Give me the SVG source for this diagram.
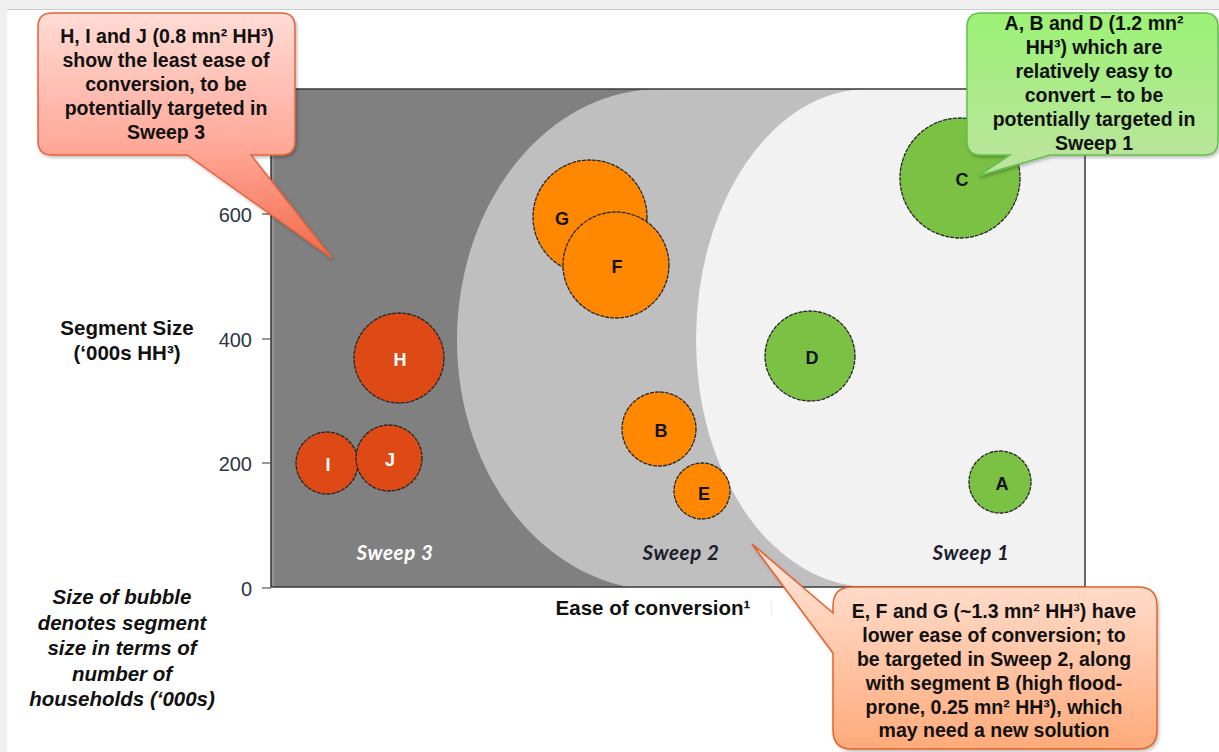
<svg xmlns="http://www.w3.org/2000/svg" width="1219" height="752" viewBox="0 0 1219 752">
<style>
.lbl{font-family:"Liberation Sans",Arial,sans-serif;font-weight:bold;font-size:18px;text-anchor:middle;fill:#111}
.lblw{fill:#ffffff}
.bub{stroke:#262626;stroke-width:1.3;stroke-dasharray:4 1}
.or{fill:#ff8800}.rd{fill:#dd4a16}.gr{fill:#7bc143}
.tick{font-family:"Liberation Sans",Arial,sans-serif;font-size:20px;fill:#2e3546;text-anchor:end}
.ttl{font-family:"Liberation Sans",Arial,sans-serif;font-weight:bold;font-size:20.5px;fill:#111;text-anchor:middle}
.it{font-family:"Liberation Sans",Arial,sans-serif;font-weight:bold;font-style:italic;font-size:20.5px;fill:#111;text-anchor:middle}
.co{font-family:"Liberation Sans",Arial,sans-serif;font-weight:bold;font-size:19.5px;fill:#111;text-anchor:middle}
.sw{font-family:Lato,"Liberation Sans",sans-serif;font-weight:bold;font-style:italic;font-size:20.5px;letter-spacing:0.6px;text-anchor:middle}
</style>
<defs>
<clipPath id="plotclip"><rect x="271" y="89" width="814" height="498"/></clipPath>
<linearGradient id="gRed" gradientUnits="userSpaceOnUse" x1="0" y1="13" x2="0" y2="258">
<stop offset="0" stop-color="#ffdcd6"/><stop offset="0.55" stop-color="#ffa898"/><stop offset="1" stop-color="#f26a48"/>
</linearGradient>
<linearGradient id="gGreen" gradientUnits="userSpaceOnUse" x1="0" y1="13" x2="0" y2="176">
<stop offset="0" stop-color="#9cf276"/><stop offset="1" stop-color="#bde39f"/>
</linearGradient>
<linearGradient id="gOrange" gradientUnits="userSpaceOnUse" x1="0" y1="544" x2="0" y2="750">
<stop offset="0" stop-color="#ffe8de"/><stop offset="1" stop-color="#ffaa7a"/>
</linearGradient>
<filter id="sh" x="-10%" y="-10%" width="120%" height="120%"><feDropShadow dx="1.5" dy="2" stdDeviation="1.5" flood-color="#000" flood-opacity="0.25"/></filter>
</defs>

<!-- page frame -->
<rect x="0" y="0" width="1219" height="752" fill="#ffffff"/>
<rect x="0" y="0" width="1219" height="9" fill="#f0f0f0"/>
<rect x="0" y="0" width="7" height="752" fill="#f0f0f0"/>
<line x1="7" y1="9.5" x2="1219" y2="9.5" stroke="#cccccc" stroke-width="1"/>

<!-- plot background regions -->
<g id="plot">
<g clip-path="url(#plotclip)">
<rect x="271" y="89" width="814" height="498" fill="#808080"/>
<path d="M 660 89 A 203 251 0 0 0 457 340 A 203 250 0 0 0 660 590 L 1085 590 L 1085 89 Z" fill="#bfbfbf"/>
<path d="M 868 89 A 172 251 0 0 0 696 340 A 174 247 0 0 0 870 587 L 1085 587 L 1085 89 Z" fill="#f2f2f2"/>
</g>
<rect x="271" y="89" width="814" height="498" fill="none" stroke="#3a3a3a" stroke-width="1.5"/>
<line x1="273" y1="90" x2="273" y2="586" stroke="#a8a8a8" stroke-width="1"/>
<g stroke="#555" stroke-width="1.2">
<line x1="262" y1="214" x2="271" y2="214"/>
<line x1="262" y1="339" x2="271" y2="339"/>
<line x1="262" y1="463" x2="271" y2="463"/>
<line x1="262" y1="588" x2="271" y2="588"/>
</g>
<text class="tick" x="252" y="222">600</text>
<text class="tick" x="252" y="347">400</text>
<text class="tick" x="252" y="471">200</text>
<text class="tick" x="252" y="596">0</text>
<text class="sw" x="395" y="560" fill="#ffffff">Sweep 3</text>
<text class="sw" x="681" y="560" fill="#1c1c2c">Sweep 2</text>
<text class="sw" x="971" y="560" fill="#1c1c2c">Sweep 1</text>
</g>

<!-- axis titles -->
<g id="axis-titles">
<text class="ttl" x="127" y="335">Segment Size</text>
<text class="ttl" x="127" y="360">(‘000s HH³)</text>
<text class="ttl" x="653" y="615">Ease of conversion¹</text>
<line x1="771.5" y1="601" x2="771.5" y2="616" stroke="#e2f2fa" stroke-width="1.5"/>
<text class="it" x="122" y="604">Size of bubble</text>
<text class="it" x="122" y="630">denotes segment</text>
<text class="it" x="122" y="655">size in terms of</text>
<text class="it" x="122" y="681">number of</text>
<text class="it" x="122" y="706">households (‘000s)</text>
</g>

<!-- bubbles -->
<g id="bubble-G"><circle class="bub or" cx="590" cy="217" r="57"/><text class="lbl" x="562" y="225">G</text></g>
<g id="bubble-F"><circle class="bub or" cx="616" cy="265" r="53"/><text class="lbl" x="617" y="273">F</text></g>
<g id="bubble-B"><circle class="bub or" cx="659" cy="429" r="37"/><text class="lbl" x="661" y="437">B</text></g>
<g id="bubble-E"><circle class="bub or" cx="702" cy="491" r="28"/><text class="lbl" x="704" y="500">E</text></g>
<g id="bubble-H"><circle class="bub rd" cx="399" cy="358" r="45"/><text class="lbl lblw" x="400" y="366">H</text></g>
<g id="bubble-I"><circle class="bub rd" cx="327" cy="463" r="31"/><text class="lbl lblw" x="328" y="471">I</text></g>
<g id="bubble-J"><circle class="bub rd" cx="389" cy="458" r="33"/><text class="lbl lblw" x="390" y="466">J</text></g>
<g id="bubble-D"><circle class="bub gr" cx="810" cy="356" r="45"/><text class="lbl" x="812" y="364">D</text></g>
<g id="bubble-A"><circle class="bub gr" cx="1000" cy="482" r="31"/><text class="lbl" x="1002" y="490">A</text></g>
<g id="bubble-C"><circle class="bub gr" cx="960" cy="178" r="60"/><text class="lbl" x="962" y="186">C</text></g>

<g id="connectors"></g>

<!-- callouts -->
<g id="callout-sweep3">
<path d="M 52 13 H 281 Q 295 13 295 27 V 141 Q 295 155 281 155 H 251 L 332 258 L 187 155 H 52 Q 38 155 38 141 V 27 Q 38 13 52 13 Z" fill="url(#gRed)" stroke="#e8623c" stroke-width="1.5" filter="url(#sh)"/>
<text class="co" x="167" y="43">H, I and J (0.8 mn² HH³)</text>
<text class="co" x="166" y="67">show the least ease of</text>
<text class="co" x="166" y="91">conversion, to be</text>
<text class="co" x="166" y="115">potentially targeted in</text>
<text class="co" x="166" y="139">Sweep 3</text>
</g>

<g id="callout-sweep1">
<path d="M 981 13 H 1204 Q 1218 13 1218 27 V 141 Q 1218 155 1204 155 H 1050 L 978 176 L 1010 155 H 981 Q 967 155 967 141 V 27 Q 967 13 981 13 Z" fill="url(#gGreen)" stroke="#62c04e" stroke-width="1.5" filter="url(#sh)"/>
<text class="co" x="1094" y="30">A, B and D (1.2 mn²</text>
<text class="co" x="1094" y="54">HH³) which are</text>
<text class="co" x="1094" y="78">relatively easy to</text>
<text class="co" x="1094" y="102">convert – to be</text>
<text class="co" x="1094" y="126">potentially targeted in</text>
<text class="co" x="1094" y="150">Sweep 1</text>
</g>

<g id="callout-sweep2">
<path d="M 852 587 H 1138 Q 1157 587 1157 606 V 730 Q 1157 749 1138 749 H 852 Q 833 749 833 730 V 653 L 752 544 L 833 613 V 606 Q 833 587 852 587 Z" fill="url(#gOrange)" stroke="#e2622e" stroke-width="1.5" filter="url(#sh)"/>
<text class="co" x="994" y="618">E, F and G (~1.3 mn² HH³) have</text>
<text class="co" x="994" y="642">lower ease of conversion; to</text>
<text class="co" x="994" y="666">be targeted in Sweep 2, along</text>
<text class="co" x="994" y="690">with segment B (high flood-</text>
<text class="co" x="994" y="714">prone, 0.25 mn² HH³), which</text>
<text class="co" x="994" y="737">may need a new solution</text>
</g>
</svg>
